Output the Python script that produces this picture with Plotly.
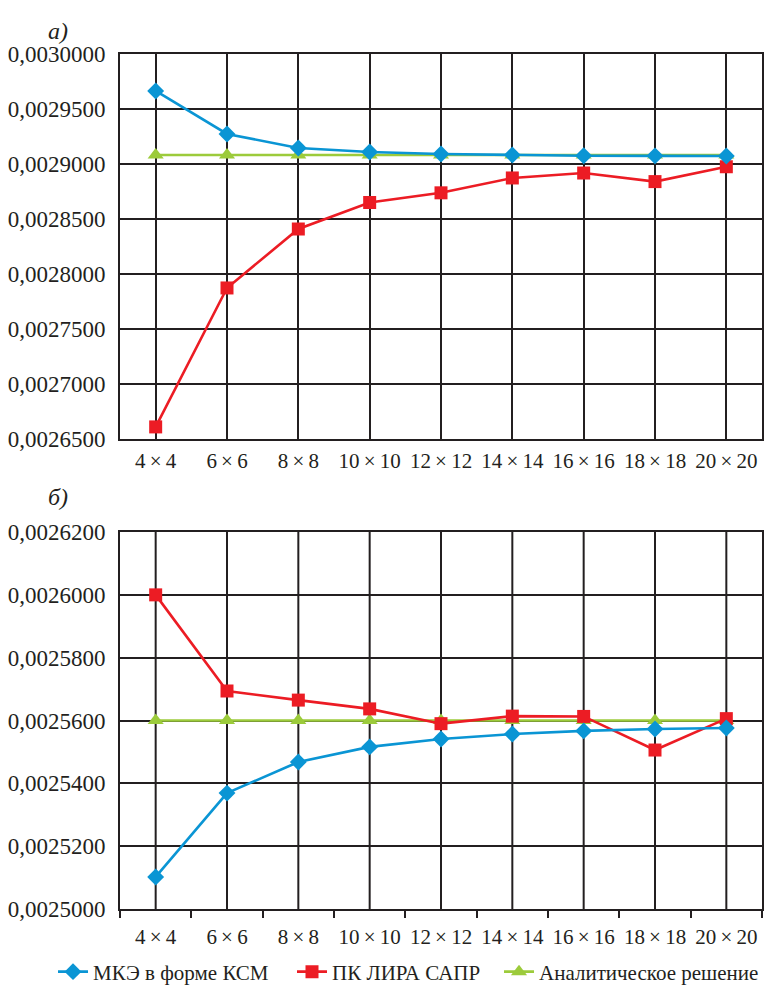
import plotly.graph_objects as go
from plotly.subplots import make_subplots

categories = ["4\u2009×\u20094", "6\u2009×\u20096", "8\u2009×\u20098", "10\u2009×\u200910", "12\u2009×\u200912",
              "14\u2009×\u200914", "16\u2009×\u200916", "18\u2009×\u200918", "20\u2009×\u200920"]

# Panel а)
a_ksm = [0.0029664, 0.0029273, 0.0029145, 0.0029109, 0.0029091, 0.0029082, 0.0029075, 0.0029074, 0.0029073]
a_lira = [0.0026610, 0.0027873, 0.0028409, 0.0028650, 0.0028738, 0.0028873, 0.0028918, 0.0028840, 0.0028975]
a_anal = [0.0029082] * 9

# Panel б)
b_ksm = [0.0025102, 0.0025369, 0.0025468, 0.0025516, 0.0025541, 0.0025557, 0.0025567, 0.0025573, 0.0025576]
b_lira = [0.0026000, 0.0025694, 0.0025665, 0.0025637, 0.0025590, 0.0025614, 0.0025613, 0.0025506, 0.0025606]
b_anal = [0.0025600] * 9

names = ["МКЭ в форме КСМ", "ПК ЛИРА САПР", "Аналитическое решение"]
colors = ["#0a95d4", "#ec1c24", "#9ccb3b"]
symbols = ["diamond", "square", "triangle-up"]
msizes = [13, 13, 14]
legend_ids = ["legend", "legend2", "legend3"]
legend_x = [0.0693, 0.3817, 0.6523]

FONT = "Liberation Serif"
GRID = "#231f20"
TXT = "#231f20"

fig = make_subplots(rows=2, cols=1, vertical_spacing=0.1088)

series_a = [a_ksm, a_lira, a_anal]
series_b = [b_ksm, b_lira, b_anal]
order = [2, 1, 0]
for row, series in ((1, series_a), (2, series_b)):
    for i in order:
        fig.add_trace(go.Scatter(
            x=categories, y=series[i], mode="lines+markers", name=names[i],
            line=dict(color=colors[i], width=2.6),
            marker=dict(symbol=symbols[i], size=msizes[i], color=colors[i]),
            showlegend=(row == 1), legend=legend_ids[i],
        ), row=row, col=1)

axis_common = dict(
    type="category", categoryorder="array", categoryarray=categories,
    range=[-0.5, 8.5], showline=True, linecolor=GRID, linewidth=2, mirror=True,
    tickfont=dict(family=FONT, size=21, color=TXT), automargin=False, tickangle=0,
)
fig.update_xaxes(**axis_common, showgrid=True, gridcolor=GRID, gridwidth=2, ticks="",
                 ticklabelstandoff=2, row=1, col=1)
fig.update_xaxes(**axis_common, showgrid=False, tickson="boundaries", ticks="outside",
                 ticklen=7, tickwidth=1.5, tickcolor=GRID, ticklabelstandoff=8, row=2, col=1)

yaxis_common = dict(showline=True, linecolor=GRID, linewidth=2, mirror=True,
                    showgrid=True, gridcolor=GRID, gridwidth=2, zeroline=False,
                    tickformat=".7f", ticks="", ticklabelstandoff=8, automargin=False,
                    tickfont=dict(family=FONT, size=23, color=TXT))
fig.update_yaxes(**yaxis_common, range=[0.00265, 0.0030], dtick=0.00005, tick0=0.0, row=1, col=1)
fig.update_yaxes(**yaxis_common, range=[0.0025, 0.00262], dtick=0.00002, tick0=0.0, row=2, col=1)

for c in categories:
    fig.add_shape(type="line", xref="x2", yref="y2 domain", x0=c, x1=c, y0=0, y1=1,
                  line=dict(color=GRID, width=2), layer="below")

fig.add_annotation(text="<i>а)</i>", xref="paper", yref="paper", x=-0.115, y=1.045,
                   showarrow=False, font=dict(family=FONT, size=24, color=TXT))
fig.add_annotation(text="<i>б)</i>", xref="paper", yref="paper", x=-0.115, y=0.482,
                   showarrow=False, font=dict(family=FONT, size=24, color=TXT))

leg_common = dict(orientation="h", xref="container", yref="container",
                  y=0.0162, yanchor="middle", xanchor="left",
                  font=dict(family=FONT, size=21, color=TXT), itemwidth=30,
                  bgcolor="rgba(0,0,0,0)")
layout_legends = {lid: dict(leg_common, x=lx) for lid, lx in zip(legend_ids, legend_x)}

fig.update_layout(
    width=765, height=988,
    margin=dict(l=120, r=3, t=54, b=79, autoexpand=False),
    paper_bgcolor="white", plot_bgcolor="white",
    separators=", ",
    showlegend=True,
    **layout_legends,
)
fig.update_layout(yaxis=dict(domain=[0.5497, 1.0]), yaxis2=dict(domain=[0.0, 0.4409]))

fig.write_html("out.html")
